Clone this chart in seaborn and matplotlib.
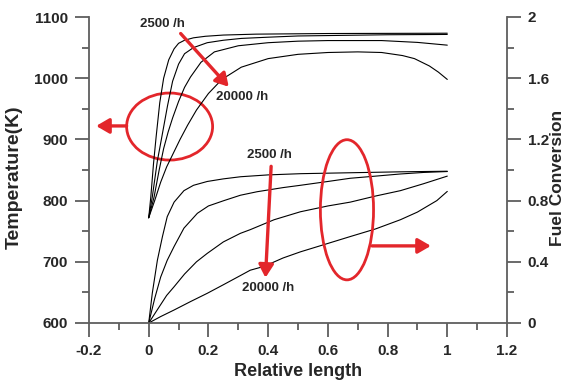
import numpy as np
import pandas as pd
import matplotlib
matplotlib.use("Agg")
import matplotlib.pyplot as plt
from matplotlib.patches import Ellipse
from matplotlib.ticker import MultipleLocator, FuncFormatter
import seaborn as sns

# ---- temperature profiles along the reactor (K) ----
temp_2500_x = [0, 0.007, 0.016, 0.025, 0.037, 0.05, 0.067, 0.085, 0.10, 0.12, 0.15, 0.19, 0.25, 0.36, 0.6, 1.0]
temp_2500_y = [772, 806, 860, 905, 960, 1000, 1030, 1048, 1057, 1062, 1066, 1068.5, 1070.5, 1072, 1073, 1073.5]

temp_b_x = [0, 0.012, 0.029, 0.042, 0.063, 0.08, 0.10, 0.12, 0.15, 0.196, 0.25, 0.31, 0.4, 0.5, 0.65, 0.8, 1.0]
temp_b_y = [772, 806, 865, 899, 955, 995, 1023, 1040, 1050, 1058, 1062, 1065, 1067, 1069, 1070, 1071, 1071.5]

temp_c_x = [0, 0.018, 0.035, 0.05, 0.065, 0.08, 0.10, 0.12, 0.14, 0.175, 0.22, 0.3, 0.4, 0.5, 0.6, 0.78, 0.9, 1.0]
temp_c_y = [772, 806, 850, 885, 912, 935, 962, 985, 1002, 1026, 1043, 1053, 1058, 1060.5, 1061.5, 1061.5, 1058.5, 1054]

temp_20000_x = [0, 0.02, 0.04, 0.06, 0.085, 0.105, 0.13, 0.16, 0.2, 0.245, 0.31, 0.4, 0.5, 0.6, 0.7, 0.78, 0.85, 0.89, 0.94, 0.97, 1.0]
temp_20000_y = [772, 800, 830, 855, 880, 900, 923, 948, 975, 998, 1018, 1032, 1039, 1042, 1043, 1042, 1037, 1032, 1020, 1010, 998]

# ---- fuel conversion profiles ----
conv_2500_x = [0, 0.012, 0.029, 0.046, 0.062, 0.085, 0.118, 0.15, 0.196, 0.25, 0.308, 0.4, 0.51, 0.675, 0.84, 1.0]
conv_2500_y = [0, 0.195, 0.41, 0.565, 0.695, 0.79, 0.865, 0.90, 0.925, 0.942, 0.956, 0.968, 0.976, 0.982, 0.988, 0.992]

conv_b_x = [0, 0.02, 0.04, 0.062, 0.085, 0.118, 0.163, 0.2, 0.252, 0.307, 0.363, 0.45, 0.508, 0.6, 0.675, 0.76, 0.843, 0.92, 1.0]
conv_b_y = [0, 0.16, 0.30, 0.41, 0.50, 0.62, 0.717, 0.765, 0.80, 0.835, 0.858, 0.885, 0.90, 0.925, 0.946, 0.96, 0.974, 0.984, 0.99]

conv_c_x = [0, 0.03, 0.06, 0.085, 0.12, 0.16, 0.196, 0.25, 0.307, 0.34, 0.42, 0.508, 0.6, 0.675, 0.76, 0.843, 0.92, 1.0]
conv_c_y = [0, 0.09, 0.18, 0.237, 0.32, 0.40, 0.455, 0.53, 0.586, 0.61, 0.675, 0.727, 0.765, 0.79, 0.83, 0.865, 0.91, 0.96]

conv_20000_x = [0, 0.04, 0.085, 0.14, 0.196, 0.25, 0.307, 0.34, 0.386, 0.45, 0.508, 0.6, 0.675, 0.76, 0.843, 0.9, 0.965, 1.0]
conv_20000_y = [0, 0.042, 0.085, 0.14, 0.194, 0.25, 0.31, 0.345, 0.37, 0.425, 0.465, 0.52, 0.565, 0.615, 0.675, 0.725, 0.80, 0.86]

x_ticks = [-0.2, 0, 0.2, 0.4, 0.6, 0.8, 1, 1.2]
temp_ticks = [600, 700, 800, 900, 1000, 1100]
conv_ticks = [0, 0.4, 0.8, 1.2, 1.6, 2]


def long_form(curves):
    frames = []
    for name, xs, ys in curves:
        frames.append(pd.DataFrame({"x": xs, "y": ys, "series": name}))
    return pd.concat(frames, ignore_index=True)


temp_df = long_form([
    ("2500", temp_2500_x, temp_2500_y),
    ("b", temp_b_x, temp_b_y),
    ("c", temp_c_x, temp_c_y),
    ("20000", temp_20000_x, temp_20000_y),
])
conv_df = long_form([
    ("2500", conv_2500_x, conv_2500_y),
    ("b", conv_b_x, conv_b_y),
    ("c", conv_c_x, conv_c_y),
    ("20000", conv_20000_x, conv_20000_y),
])

sns.set_style("ticks")
plt.rcParams["font.family"] = ["Liberation Sans", "DejaVu Sans"]
plt.rcParams["font.weight"] = "bold"

SPINE = "#5e5e5e"
RED = "#e3262b"

fig = plt.figure(figsize=(5.67, 3.86), dpi=100)
ax = fig.add_axes([89 / 567, 1 - 323 / 386, 418 / 567, 306 / 386])
ax2 = ax.twinx()

black4 = ["black"] * 4
sns.lineplot(data=temp_df, x="x", y="y", hue="series", palette=black4,
             linewidth=0.8, legend=False, ax=ax)
sns.lineplot(data=conv_df, x="x", y="y", hue="series", palette=black4,
             linewidth=0.8, legend=False, ax=ax2)

ax.set_xlim(-0.2, 1.2)
ax.set_ylim(600, 1100)
ax2.set_ylim(0, 2)

fmt = FuncFormatter(lambda v, p: f"{v:g}")
ax.set_xticks(x_ticks)
ax.xaxis.set_minor_locator(MultipleLocator(0.1))
ax.xaxis.set_major_formatter(fmt)
ax.set_yticks(temp_ticks)
ax.yaxis.set_minor_locator(MultipleLocator(50))
ax2.set_yticks(conv_ticks)
ax2.yaxis.set_minor_locator(MultipleLocator(0.2))
ax2.yaxis.set_major_formatter(fmt)

for a in (ax, ax2):
    for s in a.spines.values():
        s.set_color(SPINE)
        s.set_linewidth(1.3)
    a.tick_params(which="major", direction="out", length=10, width=1.3,
                  color=SPINE, labelsize=11, pad=5)
    a.tick_params(which="minor", direction="out", length=5, width=1.3,
                  color=SPINE)
    for lab in a.get_xticklabels() + a.get_yticklabels():
        lab.set_fontweight("bold")

ax.spines["top"].set_visible(False)
ax.spines["right"].set_visible(False)
for side in ("top", "left", "bottom"):
    ax2.spines[side].set_visible(False)

ax.set_xlabel("Relative length", fontsize=13, fontweight="bold", labelpad=4)
ax.set_ylabel("Temperature(K)", fontsize=14, fontweight="bold")
ax.yaxis.set_label_coords(-0.158, 0.475)
ax2.set_ylabel("Fuel Conversion", fontsize=12.5, fontweight="bold")
ax2.yaxis.set_label_coords(1.104, 0.475)

# annotations drawn above the conversion axis
ax.set_zorder(ax2.get_zorder() + 1)
ax.patch.set_visible(False)

ax.add_patch(Ellipse((0.070, 921), width=0.288, height=109.5, fill=False,
                     edgecolor=RED, linewidth=2))
ax.add_patch(Ellipse((0.664, 785), width=0.178, height=229, fill=False,
                     edgecolor=RED, linewidth=2))

arrow = dict(arrowstyle="-|>,head_length=0.55,head_width=0.32", color=RED,
             linewidth=2.4, mutation_scale=14, shrinkA=0, shrinkB=0)
ax.annotate("", xy=(0.268, 986), xytext=(0.107, 1073), arrowprops=arrow)
ax.annotate("", xy=(-0.176, 922), xytext=(-0.074, 922), arrowprops=arrow)
ax.annotate("", xy=(0.391, 674), xytext=(0.41, 856), arrowprops=arrow)
ax.annotate("", xy=(0.945, 726), xytext=(0.748, 726), arrowprops=arrow)

txt = dict(fontsize=9.5, fontweight="bold", ha="center", va="center")
ax.text(0.047, 1089, "2500 /h", **txt)
ax.text(0.314, 969, "20000 /h", **txt)
ax.text(0.405, 874, "2500 /h", **txt)
ax.text(0.40, 657, "20000 /h", **txt)

fig.savefig("out.png", dpi=100)
